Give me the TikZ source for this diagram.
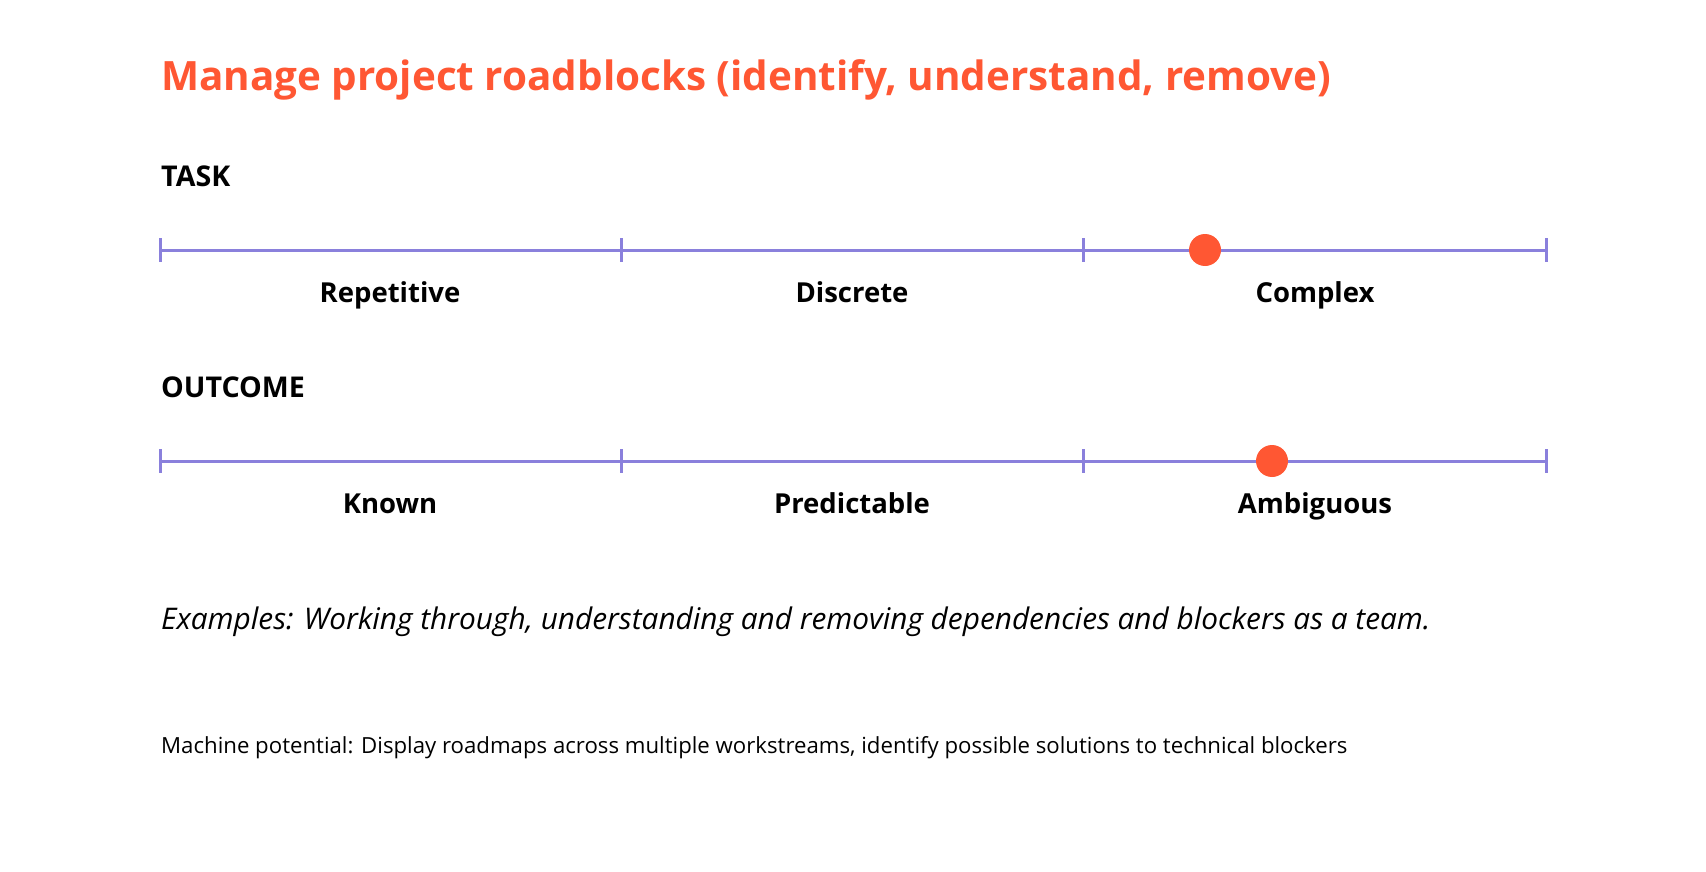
\documentclass[tikz,border=0pt]{standalone}
\usepackage{fontspec}
\setmainfont{Open Sans}
\definecolor{accent}{HTML}{FF5733}
\definecolor{scaleline}{HTML}{8A80DC}
\tikzset{
  scalebar/.style={scaleline, line width=3pt},
  tickmark/.style={scaleline, line width=3pt},
  marker/.style={circle, fill=accent, inner sep=0pt, minimum size=32pt},
  heading/.style={anchor=base west, inner sep=0pt, font=\fontsize{28.6}{33}\selectfont\bfseries},
  catlabel/.style={anchor=base, inner sep=0pt, font=\fontsize{27.5}{32}\selectfont\bfseries}
}
\begin{document}
\begin{tikzpicture}[x=1pt, y=-1pt]
			\useasboundingbox (0,0) rectangle (1706,872);
			\node[anchor=base west, inner sep=0pt, text=accent, font=\fontsize{40.4}{48}\selectfont\bfseries] (title) at (161,91) {Manage project roadblocks (identify, understand, remove)};
			% task scale
			\node[heading] (task) at (161,186) {TASK};
			\coordinate (t0) at (160,250);
			\coordinate (t1) at (621,250);
			\coordinate (t2) at (1083,250);
			\coordinate (t3) at (1546,250);
			\draw[scalebar] (t0) -- (t3);
			\foreach \p in {t0,t1,t2,t3}
				\draw[tickmark] (\p) ++(0,-12) -- ++(0,24);
			\node[catlabel] (rep) at (390,302) {Repetitive};
			\node[catlabel] (dis) at (852,302) {Discrete};
			\node[catlabel] (com) at (1315,302) {Complex};
			\node[marker] (taskdot) at (1205,250) {};
			% outcome scale
			\node[heading] (outcome) at (161,397) {OUTCOME};
			\coordinate (o0) at (160,461);
			\coordinate (o1) at (621,461);
			\coordinate (o2) at (1083,461);
			\coordinate (o3) at (1546,461);
			\draw[scalebar] (o0) -- (o3);
			\foreach \p in {o0,o1,o2,o3}
				\draw[tickmark] (\p) ++(0,-12) -- ++(0,24);
			\node[catlabel] (kno) at (390,513) {Known};
			\node[catlabel] (pre) at (852,513) {Predictable};
			\node[catlabel] (amb) at (1315,513) {Ambiguous};
			\node[marker] (outdot) at (1272,461) {};
			% notes
			\node[anchor=base west, inner sep=0pt, font=\fontsize{29.8}{35}\selectfont\itshape] (examples) at (161,629) {Examples: Working through, understanding and removing dependencies and blockers as a team.};
			\node[anchor=base west, inner sep=0pt, font=\fontsize{22.2}{27}\selectfont] (machine) at (161,753) {Machine potential: Display roadmaps across multiple workstreams, identify possible solutions to technical blockers};
		\end{tikzpicture}
\end{document}
